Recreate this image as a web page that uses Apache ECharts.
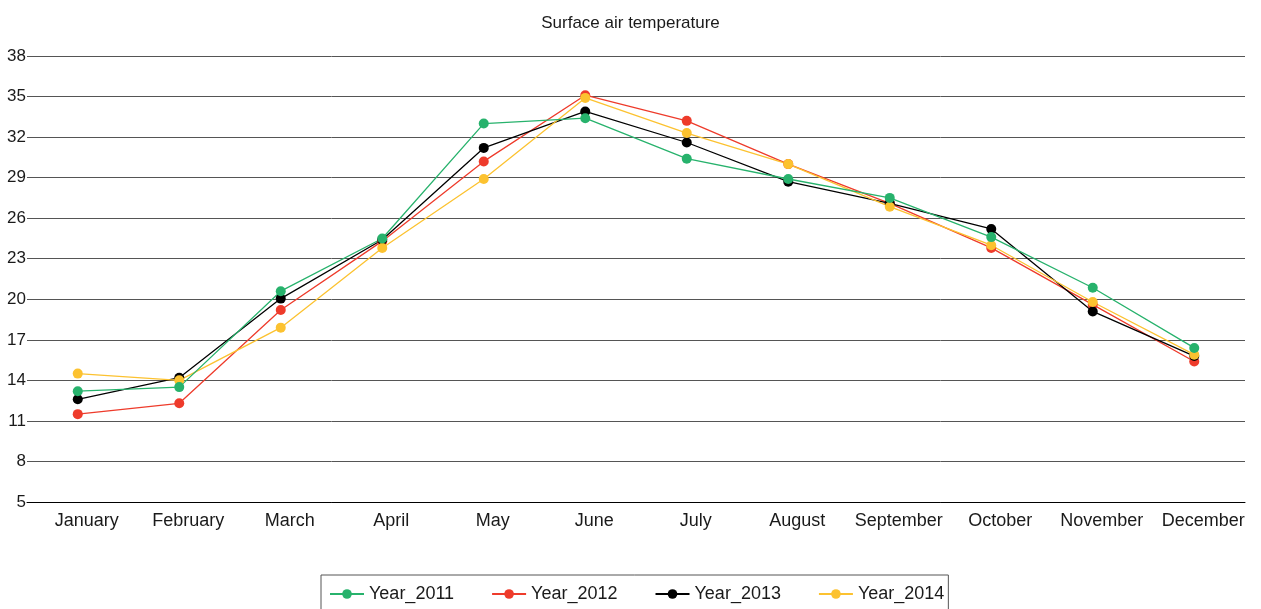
<!DOCTYPE html>
<html>
<head>
<meta charset="utf-8">
<script src="https://cdn.jsdelivr.net/npm/echarts@6/dist/echarts.min.js"></script>
<style>
  html, body { margin: 0; padding: 0; background: #fff; }
  #chart { width: 1261px; height: 609px; }
</style>
</head>
<body>
<div id="chart"></div>
<script>
const months = ["January", "February", "March", "April", "May", "June",
  "July", "August", "September", "October", "November", "December"];
const year2011 = [13.2, 13.5, 20.6, 24.5, 33.0, 33.4, 30.4, 28.9, 27.5, 24.6, 20.85, 16.4];
const year2012 = [11.5, 12.3, 19.2, 24.3, 30.2, 35.1, 33.2, 30.0, 27.1, 23.8, 19.6, 15.4];
const year2013 = [12.6, 14.2, 20.05, 24.4, 31.2, 33.9, 31.6, 28.7, 27.1, 25.2, 19.1, 15.8];
const year2014 = [14.5, 14.0, 17.9, 23.8, 28.9, 34.9, 32.3, 30.0, 26.85, 24.0, 19.8, 15.9];

const font = "'Liberation Sans', Arial, sans-serif";

function lineSeries(name, data, color) {
  return {
    name: name,
    type: "line",
    data: data,
    symbol: "circle",
    symbolSize: 10,
    lineStyle: { color: color, width: 1.3 },
    itemStyle: { color: color },
    emphasis: { disabled: true }
  };
}

const chart = echarts.init(document.getElementById("chart"));
chart.setOption({
  animation: false,
  title: {
    text: "Surface air temperature",
    left: "center",
    top: 10,
    textStyle: { fontFamily: font, fontSize: 17, fontWeight: "normal", color: "#1a1a1a" }
  },
  grid: { left: 27, right: 16, top: 56, bottom: 107 },
  legend: {
    left: 321,
    top: 575,
    padding: [10, 4, 12, 8],
    borderColor: "#555",
    borderWidth: 1,
    itemWidth: 34,
    itemHeight: 12,
    itemGap: 37,
    data: ["Year_2011", "Year_2012", "Year_2013", "Year_2014"],
    textStyle: { fontFamily: font, fontSize: 18, color: "#1a1a1a" }
  },
  xAxis: {
    type: "category",
    data: months,
    boundaryGap: true,
    axisLine: { lineStyle: { color: "#000", width: 1 } },
    axisTick: { show: false },
    axisLabel: {
      fontFamily: font, fontSize: 18, color: "#1a1a1a",
      margin: 10, padding: [0, 0, 0, 18], interval: 0
    }
  },
  yAxis: {
    type: "value",
    min: 5,
    max: 38,
    interval: 3,
    axisLine: { show: false },
    axisTick: { show: false },
    axisLabel: { fontFamily: font, fontSize: 17, color: "#1a1a1a", margin: 1 },
    splitLine: { lineStyle: { color: "#555", width: 1 } }
  },
  series: [
    lineSeries("Year_2012", year2012, "#ee3b2b"),
    lineSeries("Year_2013", year2013, "#000000"),
    lineSeries("Year_2014", year2014, "#fcc230"),
    lineSeries("Year_2011", year2011, "#27b26c")
  ]
});
</script>
</body>
</html>
